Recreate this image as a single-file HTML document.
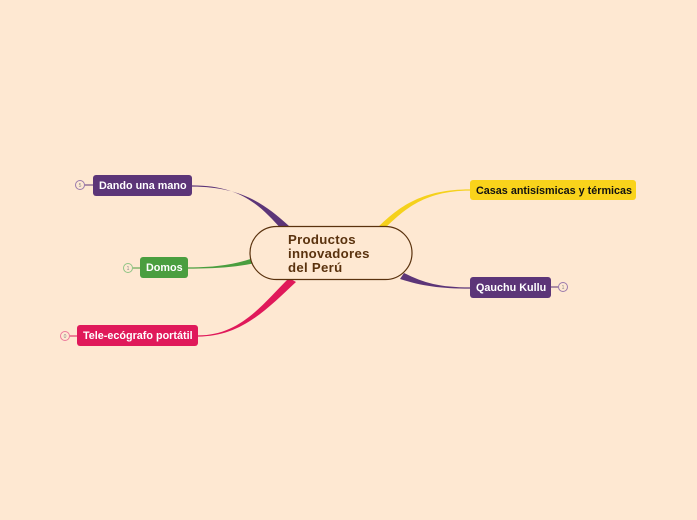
<!DOCTYPE html>
<html><head><meta charset="utf-8"><style>
body{margin:0;background:#fee8d2;width:697px;height:520px;overflow:hidden;font-family:"Liberation Sans",sans-serif}
svg{position:absolute;left:0;top:0}
</style></head><body>
<svg width="697" height="520" viewBox="0 0 697 520">
<g stroke="none">
<path d="M192 185.4 C240 185.4 260 205 282 230 L289 226 C264 203 240 186.6 192 186.6 Z" fill="#5c3578"/>
<path d="M188 267.4 C218 267.4 235 264 252 258.5 L253 263.5 C235 267 218 268.6 188 268.6 Z" fill="#4a9e3f"/>
<path d="M198 335.4 C240 335.4 262 305 289 278 L296 282 C268 308 242 336.6 198 336.6 Z" fill="#e0195a"/>
<path d="M470 189.4 C420 189.4 398 208 377 228 L383 230 C402 212 422 190.6 470 190.6 Z" fill="#f5d11c"/>
<path d="M470 287.4 C440 287.4 424 283 404 273 L400 279 C422 286 440 288.6 470 288.6 Z" fill="#5c3578"/>
</g>
<g fill="none">
<line x1="84" y1="185" x2="93" y2="185" stroke="#5c3578"/>
<line x1="132" y1="268" x2="140" y2="268" stroke="#4a9e3f"/>
<line x1="69" y1="336" x2="77" y2="336" stroke="#e0195a"/>
<line x1="551" y1="287" x2="559" y2="287" stroke="#5c3578"/>
</g>
<g font-size="5" text-anchor="middle" fill="#888">
<circle cx="80" cy="185" r="4.5" fill="#fee8d2" stroke="#9a7aad"/><text x="80" y="187">5</text>
<circle cx="128" cy="268" r="4.5" fill="#fee8d2" stroke="#8fc585"/><text x="128" y="270">1</text>
<circle cx="65" cy="336" r="4.5" fill="#fee8d2" stroke="#ec7a9c"/><text x="65" y="338">0</text>
<circle cx="563" cy="287" r="4.5" fill="#fee8d2" stroke="#9a7aad"/><text x="563" y="289">1</text>
</g>
<rect x="250" y="226.5" width="162" height="53" rx="26.5" fill="#fee8d2" stroke="#5a320e" stroke-width="1.2"/>
<g font-weight="bold" font-size="13.2" fill="#5a320e" letter-spacing="0.3">
<text x="288" y="244">Productos</text><text x="288" y="258">innovadores</text><text x="288" y="272">del Perú</text>
</g>
<g font-weight="bold" font-size="10.8">
<rect x="93" y="175" width="99" height="21" rx="3" fill="#5c3578"/><text x="99" y="189" fill="#fff">Dando una mano</text>
<rect x="140" y="257" width="48" height="21" rx="3" fill="#4a9e3f"/><text x="146" y="271" fill="#fff">Domos</text>
<rect x="77" y="325" width="121" height="21" rx="3" fill="#e0195a"/><text x="83" y="339" fill="#fff">Tele-ecógrafo portátil</text>
<rect x="470" y="180" width="166" height="20" rx="3" fill="#f9d31b"/><text x="476" y="194" fill="#111">Casas antisísmicas y térmicas</text>
<rect x="470" y="277" width="81" height="21" rx="3" fill="#5c3578"/><text x="476" y="291" fill="#fff">Qauchu Kullu</text>
</g>
</svg>
</body></html>
